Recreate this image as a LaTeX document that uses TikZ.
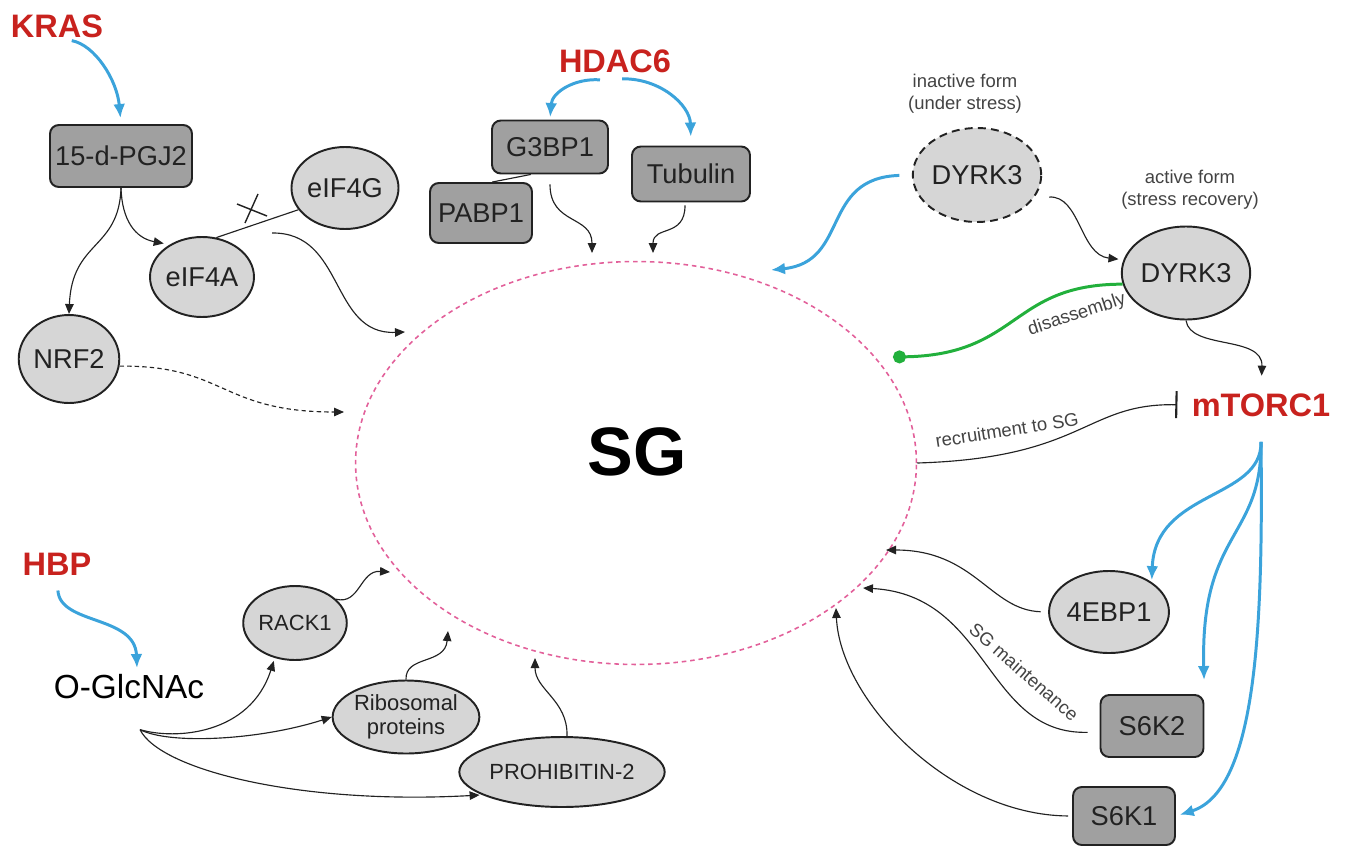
\documentclass[tikz,border=0pt]{standalone}
\usepackage{fontspec}
\setmainfont{Liberation Sans}
\usetikzlibrary{arrows.meta,shapes.geometric}
\definecolor{sgred}{HTML}{C8221E}
\definecolor{sgblue}{HTML}{3BA3DB}
\definecolor{sggreen}{HTML}{22B03C}
\definecolor{sgpink}{HTML}{E2609A}
\definecolor{boxgrey}{HTML}{A0A0A0}
\definecolor{ellgrey}{HTML}{D6D6D6}
\definecolor{inkgrey}{HTML}{222222}
\tikzset{
  factor/.style={font=\bfseries\fontsize{18.5}{20}\selectfont,text=sgred,inner sep=0pt},
  protbox/.style={rectangle,rounded corners=5pt,draw=inkgrey,line width=1.1pt,fill=boxgrey,text=inkgrey,font=\fontsize{15.5}{17}\selectfont,inner sep=0pt},
  protell/.style={ellipse,draw=inkgrey,line width=1.1pt,fill=ellgrey,text=inkgrey,font=\fontsize{15.5}{17}\selectfont,inner sep=0pt},
  smallprot/.style={protell,font=\fontsize{12.5}{13.5}\selectfont,align=center},
  smallnote/.style={font=\fontsize{10.5}{12.5}\selectfont,text=inkgrey!85,align=center,inner sep=0pt},
  arrow/.style={-{Triangle[length=2mm,width=1.7mm]},line width=0.65pt,inkgrey},
  bluearrow/.style={-{Latex[length=2.8mm,width=2.4mm]},line width=1.7pt,sgblue}
}
\begin{document}
\begin{tikzpicture}[x=0.02cm,y=-0.02cm]
    \useasboundingbox (0,0) rectangle (1351,848);
    \node[ellipse,draw=sgpink,line width=0.9pt,dash pattern=on 2.6pt off 2.2pt,minimum width=11.22cm,minimum height=8.06cm] (sg) at (636,463) {};
    \node[font=\bfseries\fontsize{39}{40}\selectfont,inner sep=0pt] (sglabel) at (637,452) {SG};

    \node[factor] (kras) at (57,26) {KRAS};
    \node[protbox,minimum width=2.84cm,minimum height=1.24cm] (pgj) at (121,156) {15-d-PGJ2};
    \node[protell,minimum width=1.88cm,minimum height=1.64cm] (eif4g) at (345,188) {eIF4G};
    \node[protell,minimum width=2.08cm,minimum height=1.6cm] (eif4a) at (202,277) {eIF4A};
    \node[protell,minimum width=1.84cm,minimum height=1.76cm] (nrf2) at (69,359) {NRF2};

    \node[factor] (hdac) at (615,61) {HDAC6};
    \node[protbox,minimum width=2.32cm,minimum height=1.06cm] (g3bp) at (550,147) {G3BP1};
    \node[protbox,minimum width=2.04cm,minimum height=1.2cm] (pabp) at (481,213) {PABP1};
    \node[protbox,minimum width=2.36cm,minimum height=1.1cm] (tub) at (691,174) {Tubulin};

    \node[smallnote] (inactlab) at (965,94) {inactive form\\(under stress)};
    \node[protell,dash pattern=on 4.5pt off 3pt,minimum width=2.4cm,minimum height=1.88cm] (dy3i) at (977,175) {DYRK3};
    \node[smallnote] (actlab) at (1190,190) {active form\\(stress recovery)};
    \node[protell,minimum width=2.44cm,minimum height=1.86cm] (dy3a) at (1186,273) {DYRK3};
    \node[factor] (mtorc) at (1261,405) {mTORC1};
    \node[protell,minimum width=1.84cm,minimum height=1.64cm] (ebp) at (1109,612) {4EBP1};
    \node[protbox,minimum width=2.06cm,minimum height=1.24cm] (s6k2) at (1152,726) {S6K2};
    \node[protbox,minimum width=2.04cm,minimum height=1.16cm] (s6k1) at (1124,816) {S6K1};

    \node[factor] (hbp) at (57,564) {HBP};
    \node[font=\fontsize{19}{21}\selectfont,text=black,inner sep=0pt] (ogl) at (129,687) {O-GlcNAc};
    \node[smallprot,minimum width=1.88cm,minimum height=1.48cm] (rack) at (295,623) {RACK1};
    \node[smallprot,minimum width=2.84cm,minimum height=1.46cm] (ribo) at (406,717) {Ribosomal\\proteins};
    \node[smallprot,minimum width=3.54cm,minimum height=1.4cm] (proh) at (562,772) {PROHIBITIN-2};

    \node[smallnote,rotate=18] (disaslab) at (1077,315) {disassembly};
    \node[smallnote,rotate=9] (recrlab) at (1007,430) {recruitment to SG};
    \node[smallnote,rotate=-41] (maintlab) at (1024,672) {SG maintenance};

    \coordinate (cplx) at (272,233);
    \coordinate (sgin1) at (405,332);
    \coordinate (sgin2) at (344,412);
    \coordinate (sgin3) at (592,253);
    \coordinate (sgin4) at (653,253);
    \coordinate (sgin5) at (771,270);
    \coordinate (sgdot) at (893,357);
    \coordinate (sgin6) at (886,550);
    \coordinate (sgin7) at (863,588);
    \coordinate (sgin8) at (836,608);
    \coordinate (sgin9) at (390,572);
    \coordinate (sgin10) at (448,631);
    \coordinate (sgin11) at (535,658);

    \draw[bluearrow,shorten <=0.3cm,shorten >=0.12cm] (kras.south) .. controls (95,45) and (117,80) .. (pgj.north);
    \draw[arrow] (pgj.south) .. controls (119,250) and (72,240) .. (nrf2.north);
    \draw[arrow,shorten >=0.12cm] (pgj.south) .. controls (122,220) and (135,238) .. (eif4a.135);
    \draw[inkgrey,line width=0.65pt] (eif4a.70) -- (eif4g.205);
    \draw[inkgrey,line width=0.8pt] (245,223) -- (258,194) (237,204) -- (267,216);
    \draw[arrow] (cplx) .. controls (345,232) and (330,335) .. (sgin1);
    \draw[arrow,dash pattern=on 2.5pt off 1.8pt] (nrf2.-8) .. controls (225,365) and (220,412) .. (sgin2);

    \draw[bluearrow,shorten >=0.05cm] ([xshift=-0.3cm,yshift=-0.14cm]hdac.south) .. controls (575,78) and (552,92) .. (g3bp.north);
    \draw[bluearrow,shorten >=0.18cm] ([xshift=0.14cm,yshift=-0.12cm]hdac.south) .. controls (660,78) and (690,105) .. (tub.north);
    \draw[inkgrey,line width=0.65pt] (g3bp.235) -- (pabp.70);
    \draw[arrow,shorten <=0.2cm] (g3bp.south) .. controls (550,225) and (592,215) .. (sgin3);
    \draw[arrow,shorten <=0.06cm] ([xshift=-0.12cm]tub.south) .. controls (685,238) and (653,225) .. (sgin4);

    \draw[bluearrow,shorten <=0.25cm] (dy3i.west) .. controls (820,178) and (850,262) .. (sgin5);
    \draw[arrow,shorten <=0.3cm,shorten >=0.1cm] (dy3i.-22) .. controls (1080,195) and (1080,255) .. (dy3a.168);
    \draw[sggreen,line width=1.7pt,-{Circle[length=2.6mm]}] (dy3a.190) .. controls (1010,284) and (1020,355) .. (sgdot);
    \draw[arrow,shorten >=0.35cm] (dy3a.south) .. controls (1190,350) and (1263,335) .. (mtorc.north);
    \draw[inkgrey,line width=0.65pt,-{Bar[width=5.4mm,line width=1.2pt]},shorten >=0.28cm] (sg.east) .. controls (1085,458) and (1085,403) .. (mtorc.west);

    \draw[bluearrow,shorten >=0.04cm] ([yshift=-0.5cm]mtorc.south) .. controls (1262,500) and (1155,490) .. (ebp.35);
    \draw[bluearrow,shorten >=0.28cm] ([yshift=-0.5cm]mtorc.south) .. controls (1262,540) and (1200,530) .. (s6k2.north east);
    \draw[bluearrow,shorten >=0.08cm] ([yshift=-0.5cm]mtorc.south) .. controls (1263,620) and (1258,790) .. (s6k1.east);
    \draw[arrow,shorten <=0.15cm] (ebp.west) .. controls (990,610) and (975,550) .. (sgin6);
    \draw[arrow,shorten <=0.24cm] ([yshift=-0.12cm]s6k2.west) .. controls (985,735) and (990,595) .. (sgin7);
    \draw[arrow,shorten <=0.08cm] (s6k1.west) .. controls (950,815) and (840,700) .. (sgin8);

    \draw[bluearrow,shorten <=0.3cm] (hbp.south) .. controls (60,625) and (135,615) .. (137,668);
    \draw[arrow,shorten >=0.06cm] ([xshift=0.22cm,yshift=-0.6cm]ogl.south) .. controls (175,740) and (250,735) .. (rack.240);
    \draw[arrow] ([xshift=0.22cm,yshift=-0.6cm]ogl.south) .. controls (170,745) and (260,740) .. (ribo.west);
    \draw[arrow,shorten >=0.05cm] ([xshift=0.22cm,yshift=-0.6cm]ogl.south) .. controls (160,770) and (300,805) .. (proh.196);
    \draw[arrow] (rack.30) .. controls (360,605) and (360,570) .. (sgin9);
    \draw[arrow] (ribo.north) .. controls (405,655) and (445,665) .. (sgin10);
    \draw[arrow] ([xshift=0.1cm]proh.north) .. controls (568,700) and (535,690) .. (sgin11);
  \end{tikzpicture}
\end{document}
